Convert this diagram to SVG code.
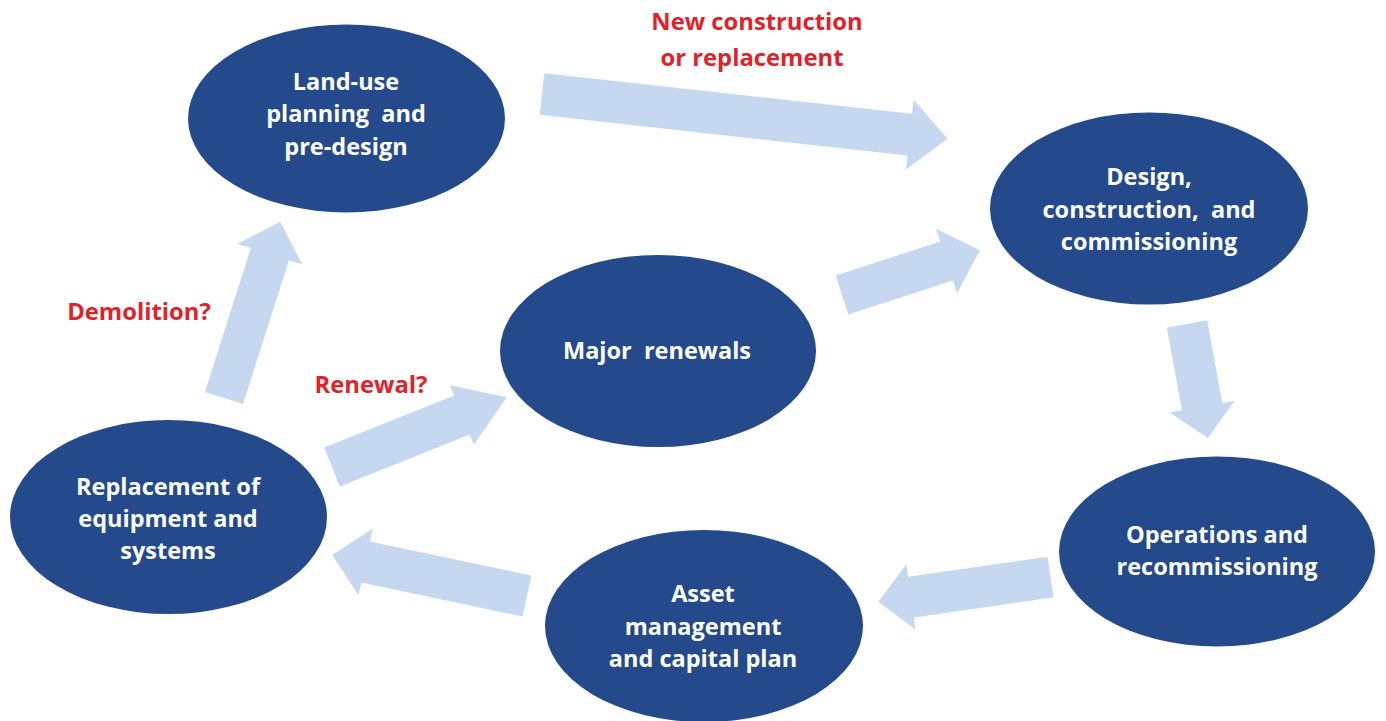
<svg xmlns="http://www.w3.org/2000/svg" width="1386" height="721" viewBox="0 0 1386 721">
<style>
.node{fill:#244a8b;}
.arrow{fill:#c6d8f0;}
.nt{fill:#ffffff;font-family:"Open Sans","Liberation Sans",sans-serif;font-weight:700;font-size:23.5px;text-anchor:middle;white-space:pre;}
.lbl{fill:#e0222b;font-family:"Open Sans","Liberation Sans",sans-serif;font-weight:700;font-size:23.8px;text-anchor:middle;}
</style>
<rect width="1386" height="721" fill="#ffffff"/>
<g id="connectors">
<path class="arrow" transform="translate(542,94) rotate(6.3)" d="M0,-21 H370 V-35 L408,0 L370,35 V21 H0 Z"/>
<path class="arrow" transform="translate(224,398) rotate(-72.3)" d="M0,-20 H151 V-34 L185,0 L151,34 V20 H0 Z"/>
<path class="arrow" transform="translate(332,467) rotate(-21.8)" d="M0,-21 H140 V-32 L188,0 L140,32 V21 H0 Z"/>
<path class="arrow" transform="translate(842,295) rotate(-18)" d="M0,-20.5 H110 V-34 L145,0 L110,34 V20.5 H0 Z"/>
<path class="arrow" transform="translate(1187,324) rotate(79.6)" d="M0,-20.5 H84 V-33 L116,0 L84,33 V20.5 H0 Z"/>
<path class="arrow" transform="translate(1050.5,577) rotate(171.8)" d="M0,-20.5 H141 V-33 L174,0 L141,33 V20.5 H0 Z"/>
<path class="arrow" transform="translate(527,596) rotate(191.9)" d="M0,-21 H165 V-34 L199,0 L165,34 V21 H0 Z"/>
</g>
<g id="labels">
<text class="lbl" x="757" y="30">New construction</text>
<text class="lbl" x="752" y="66">or replacement</text>
<text class="lbl" x="139" y="320">Demolition?</text>
<text class="lbl" x="371" y="393">Renewal?</text>
</g>
<g id="node-landuse">
<ellipse class="node" cx="346.5" cy="118.5" rx="158.5" ry="94"/>
<text class="nt" x="346" y="90">Land-use</text>
<text class="nt" x="346" y="122" xml:space="preserve">planning  and</text>
<text class="nt" x="346" y="155">pre-design</text>
</g>
<g id="node-design">
<ellipse class="node" cx="1149" cy="208.5" rx="159" ry="96"/>
<text class="nt" x="1149" y="185">Design,</text>
<text class="nt" x="1149" y="218" xml:space="preserve">construction,  and</text>
<text class="nt" x="1149" y="250">commissioning</text>
</g>
<g id="node-renewals">
<ellipse class="node" cx="658" cy="351" rx="158" ry="96"/>
<text class="nt" x="657" y="359" xml:space="preserve">Major  renewals</text>
</g>
<g id="node-replacement">
<ellipse class="node" cx="168.5" cy="517" rx="158.5" ry="97"/>
<text class="nt" x="168" y="495">Replacement of</text>
<text class="nt" x="168" y="527">equipment and</text>
<text class="nt" x="168" y="559">systems</text>
</g>
<g id="node-operations">
<ellipse class="node" cx="1217" cy="551.5" rx="158" ry="95"/>
<text class="nt" x="1217" y="543">Operations and</text>
<text class="nt" x="1217" y="575">recommissioning</text>
</g>
<g id="node-asset">
<ellipse class="node" cx="704" cy="626" rx="159" ry="96"/>
<text class="nt" x="703" y="602">Asset</text>
<text class="nt" x="703" y="635">management</text>
<text class="nt" x="703" y="667">and capital plan</text>
</g>
</svg>
